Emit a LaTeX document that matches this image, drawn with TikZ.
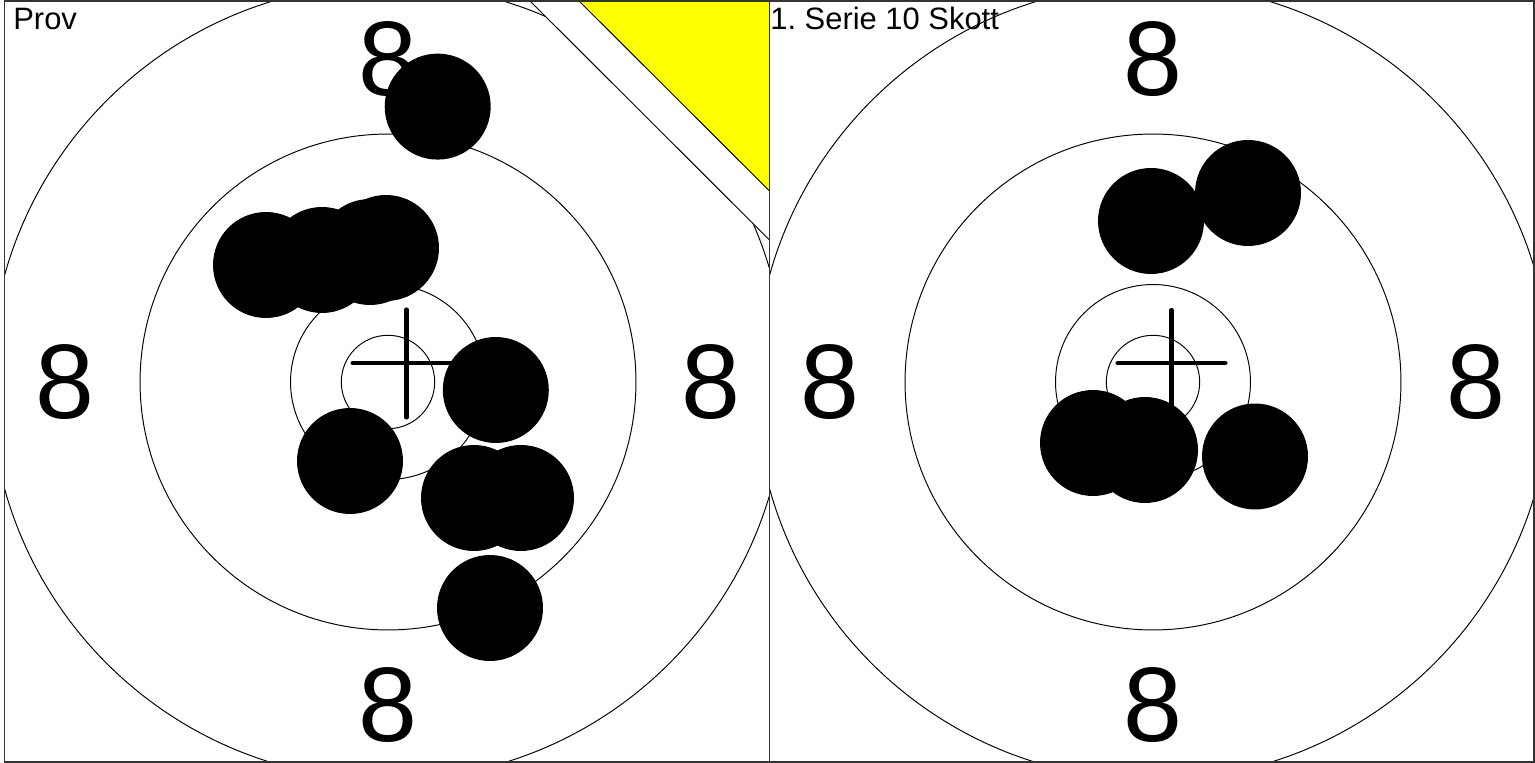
\documentclass[tikz,border=0pt]{standalone}
\usepackage{fontspec}
\setmainfont{Liberation Sans}
\frenchspacing
\definecolor{ram}{HTML}{333333}
\definecolor{gul}{HTML}{FFFF00}

\begin{document}
\begin{tikzpicture}[x=0.02cm, y=-0.02cm,
    ring/.style={draw=black, line width=0.55pt},
    traff/.style={fill=black},
    kors/.style={line width=2.3pt, line cap=round},
    siffra/.style={font=\fontsize{60.3}{60.3}\selectfont, inner sep=0pt},
    rubrik/.style={font=\fontsize{17.6}{17.6}\selectfont, inner sep=0pt, anchor=base west}]
  \def\r{1.06cm}
  \useasboundingbox (0,0) rectangle (1535,763);
  \fill[white] (0,0) rectangle (1535,763);
  % ringar och siffror
  \foreach \cx/\tag in {388/v, 1153/h} {
    \begin{scope}
      \clip (\cx-383.5,1) rectangle (\cx+381.5,762);
      \foreach \rr in {0.934,1.95,4.96,7.96}
        \draw[ring] (\cx,382) circle (\rr cm);
    \end{scope}
    \node[siffra] (\tag-n) at (\cx,59) {8};
    \node[siffra] (\tag-s) at (\cx,705) {8};
    \node[siffra] (\tag-w) at (\cx-323,382) {8};
    \node[siffra] (\tag-o) at (\cx+323,382) {8};
  }
  % hörnet
  \fill[white] (530,1) -- (769.5,1) -- (769.5,240) -- cycle;
  \draw[ring] (530,1) -- (769.5,240);
  \fill[gul] (579,1) -- (769.5,1) -- (769.5,191) -- cycle;
  \draw[ring] (579,1) -- (769.5,191);
  % medelträffpunkt
  \draw[kors] (352.5,363) -- (460.5,363) (406.5,309.5) -- (406.5,417.5);
  \draw[kors] (1117.5,363) -- (1225.5,363) (1171.5,310) -- (1171.5,417);
  % träffar
  \foreach \p in {(437.7,106.6), (266,265), (322,260), (370,252), (386,248),
                  (495.8,390), (350,461), (474,498), (521,498), (490,608)}
    \fill[traff] \p circle (\r);
  \foreach \p in {(1151,221), (1248,193), (1093,443), (1145,450), (1255,456.5)}
    \fill[traff] \p circle (\r);
  % rubriker
  \node[rubrik] (prov) at (13,29.3) {Prov};
  \node[rubrik] (serie) at (770,29.3) {1. Serie 10 Skott};
  \draw[ram, line width=1.1pt] (4.5,1) rectangle (769.5,762)
    (769.5,1) rectangle (1534,762);
\end{tikzpicture}
\end{document}
